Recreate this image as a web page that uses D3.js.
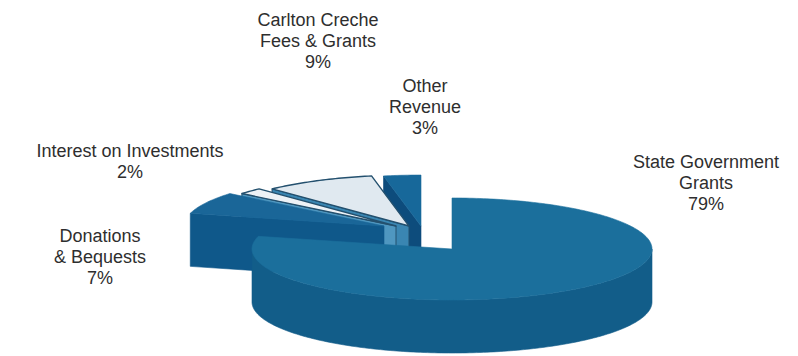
<!DOCTYPE html>
<html>
<head>
<meta charset="utf-8">
<script src="https://cdn.jsdelivr.net/npm/d3@7"></script>
<style>
  html, body { margin: 0; padding: 0; background: #ffffff; }
  svg { display: block; }
</style>
</head>
<body>
<svg id="chart" width="798" height="356"></svg>
<script>
// Revenue sources, clockwise from the back of the pie
const categories = ["State Government Grants", "Donations & Bequests", "Interest on Investments", "Carlton Creche Fees & Grants", "Other Revenue"];
const shares = [79, 7, 2, 9, 3];
const labelLines = [
  ["State Government", "Grants"],
  ["Donations", "& Bequests"],
  ["Interest on Investments"],
  ["Carlton Creche", "Fees & Grants"],
  ["Other", "Revenue"]
];

// ---- layout & style ----
const W = 798, H = 356;
const cx = 452, cy = 249;        // centre of the main slice's top face
const rx = 200, ry = 51;         // ellipse radii of the tilted disc
const depth = 53;                // thickness of the disc
// per-slice displacement on the ground plane (in radius units; negative y = towards the back)
const shiftX = [0, -0.34, -0.28, -0.215, -0.155];
const shiftY = [0, -0.45, -0.45, -0.45, -0.45];
const topFill  = ["#1b6f9c", "#1a6698", "#edf2f6", "#e0e9f0", "#17689a"];
const sideFill = ["#125d89", "#0f588a", "#4f97c0", "#3a86b2", "#0d4c7c"];
const edgeStroke = [null, null, "#23506e", "#23506e", null];
const labelAnchor = [[706, 168], [100, 242], [130, 157], [318, 26], [425, 92]];
const lineGap = 21;

const svg = d3.select("#chart");

// ground plane (unit disc) -> screen
const xs = d3.scaleLinear().domain([-1, 1]).range([cx - rx, cx + rx]);
const ys = d3.scaleLinear().domain([-1, 1]).range([cy - ry, cy + ry]);

const arcs = d3.pie().sort(null).value(d => d)(shares);

function pt(i, a, r, up) {
  const gx = shiftX[i] + r * Math.sin(a);
  const gy = shiftY[i] - r * Math.cos(a);
  return [xs(gx), ys(gy) + (up ? 0 : depth)];
}
function sampleAngles(a0, a1) {
  const n = Math.max(2, Math.ceil(Math.abs(a1 - a0) / (Math.PI / 180)));
  return d3.range(n + 1).map(k => a0 + (a1 - a0) * k / n);
}
const poly = d3.line().curve(d3.curveLinearClosed);

const order = [4, 3, 2, 1, 0];   // back to front
order.forEach(i => {
  const a0 = arcs[i].startAngle, a1 = arcs[i].endAngle;
  const g = svg.append("g").attr("class", "slice");
  const stroke = edgeStroke[i];

  // outer curved wall: only the front-facing half of the rim
  const s = Math.max(a0, Math.PI / 2), e = Math.min(a1, 3 * Math.PI / 2);
  if (e > s) {
    const angs = sampleAngles(s, e);
    const pts = angs.map(a => pt(i, a, 1, true)).concat(angs.slice().reverse().map(a => pt(i, a, 1, false)));
    g.append("path").attr("d", poly(pts)).attr("fill", sideFill[i])
      .attr("stroke", stroke || sideFill[i]).attr("stroke-width", stroke ? 1 : 0.6);
  }
  // radial cut faces that turn towards the viewer
  const faces = [];
  if (Math.sin(a0) < -1e-6) faces.push(a0);
  if (Math.sin(a1) > 1e-6) faces.push(a1);
  faces.forEach(a => {
    const pts = [pt(i, a, 1, true), pt(i, a, 0, true), pt(i, a, 0, false), pt(i, a, 1, false)];
    g.append("path").attr("d", poly(pts)).attr("fill", sideFill[i])
      .attr("stroke", stroke || sideFill[i]).attr("stroke-width", stroke ? 1 : 0.6);
  });
  // top face
  const topPts = [pt(i, 0, 0, true)].concat(sampleAngles(a0, a1).map(a => pt(i, a, 1, true)));
  g.append("path").attr("d", poly(topPts)).attr("fill", topFill[i])
    .attr("stroke", stroke || topFill[i]).attr("stroke-width", stroke ? 1.4 : 0.6)
    .attr("stroke-linejoin", "round");
});

// labels
const labels = svg.append("g")
  .attr("font-family", "'Liberation Sans', Arial, sans-serif")
  .attr("font-size", 18)
  .attr("fill", "#2e2e2e")
  .attr("text-anchor", "middle");
categories.forEach((c, i) => {
  const lines = labelLines[i].concat([shares[i] + "%"]);
  const t = labels.append("text").attr("x", labelAnchor[i][0]).attr("y", labelAnchor[i][1]);
  lines.forEach((ln, k) => {
    t.append("tspan").attr("x", labelAnchor[i][0]).attr("dy", k === 0 ? 0 : lineGap).text(ln);
  });
});
</script>
</body>
</html>
